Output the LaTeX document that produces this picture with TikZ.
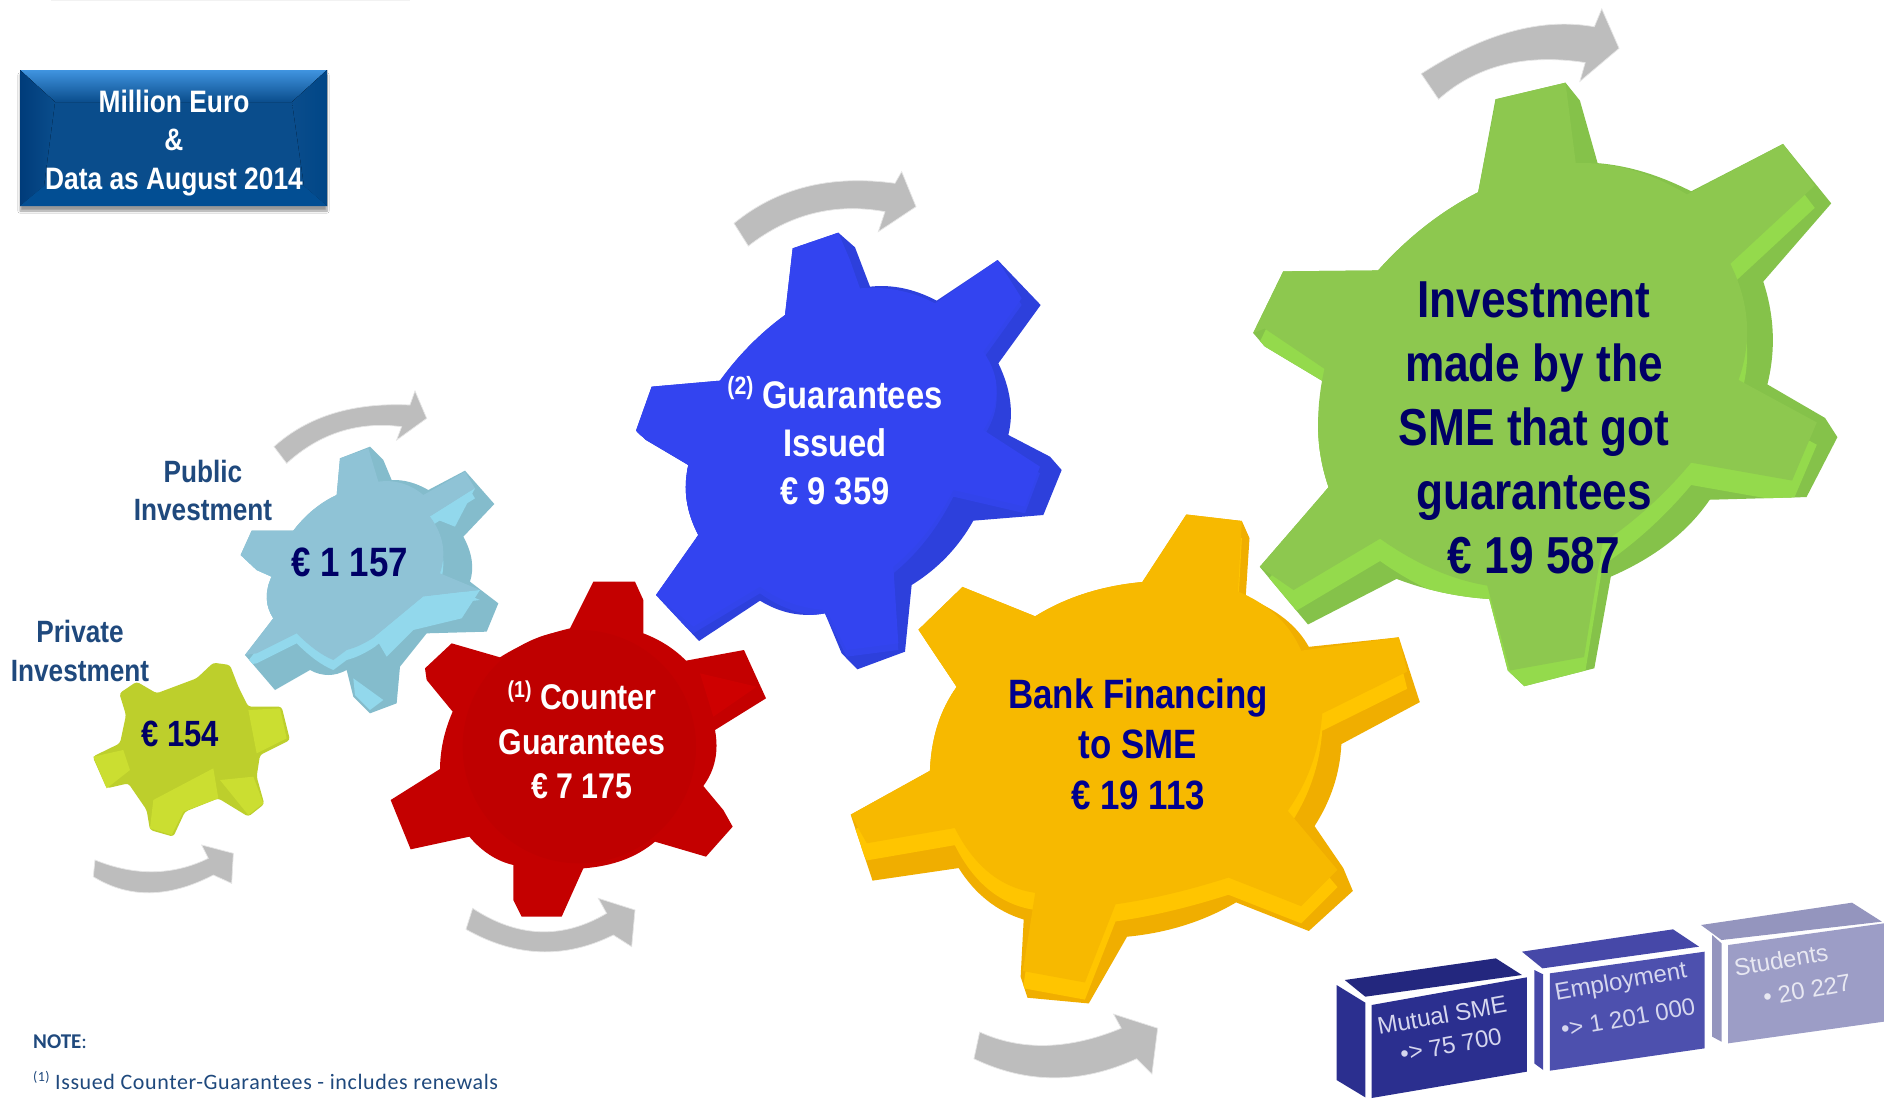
\documentclass[tikz,border=0pt]{standalone}
\usepackage{fontspec}
\setmainfont{Liberation Sans}
\newfontfamily\nf[FakeStretch=0.85]{Liberation Sans}
\newfontfamily\notefont[LetterSpace=2.8]{Carlito}
\newfontfamily\noteb{Carlito}
\usetikzlibrary{shadows.blur}
\definecolor{navy}{HTML}{000066}
\definecolor{navyb}{HTML}{00008F}
\definecolor{steel}{HTML}{1F497D}
\definecolor{arrowgray}{HTML}{BDBDBD}
\definecolor{lgmain}{HTML}{0A4D8C}
\definecolor{lgtop}{HTML}{4094E0}
\definecolor{lgleft}{HTML}{003C7A}
\definecolor{lgright}{HTML}{004687}
\definecolor{lgbot}{HTML}{024E93}
\definecolor{gside}{HTML}{85C24A}
\definecolor{glight}{HTML}{94DA4C}
\definecolor{gface}{HTML}{8DC84F}
\definecolor{yside}{HTML}{F0AE00}
\definecolor{ylight}{HTML}{FFC500}
\definecolor{yface}{HTML}{F7B900}
\definecolor{bside}{HTML}{2D40DC}
\definecolor{blight}{HTML}{3244EB}
\definecolor{bface}{HTML}{3344F0}
\definecolor{rside}{HTML}{C40000}
\definecolor{rface}{HTML}{BF0000}
\definecolor{rlight}{HTML}{CE0000}
\definecolor{lside}{HTML}{84BCCC}
\definecolor{llight}{HTML}{92D8EC}
\definecolor{lface}{HTML}{8FC3D6}
\definecolor{oface}{HTML}{BDCF2C}
\definecolor{olight}{HTML}{CBDE31}
\definecolor{box1top}{HTML}{23277E}
\definecolor{box1}{HTML}{2B2F8F}
\definecolor{box2top}{HTML}{4648A8}
\definecolor{box2}{HTML}{4D50AE}
\definecolor{box3top}{HTML}{9495BE}
\definecolor{box3}{HTML}{9C9DC6}
\definecolor{boxtxt}{HTML}{D5D6EE}
\definecolor{boxtxtb}{HTML}{E8E8F2}
\tikzset{
  curvearrow/.style={fill=arrowgray,draw=arrowgray!40,line width=.7pt},
  gtext/.style={align=center,inner sep=0pt},
  boxtext/.style={font=\fontsize{24}{24}\selectfont,inner sep=0pt,rotate=10},
}
% true quadratic curve: start, control, end
\def\Q(#1,#2)(#3,#4)(#5,#6){.. controls ({(#1+2*#3)/3},{(#2+2*#4)/3}) and ({(#5+2*#3)/3},{(#6+2*#4)/3}) .. (#5,#6)}
\newcommand\gearbody[6]{%
  \fill[#3] #1;
  \begin{scope}\clip #1; \fill[#4,shift={(0,#6)}] #2; \end{scope}
  \fill[#5] #2;
}
\def\Gout{(620,222)--(790,185)--(825,225)--(868,365) \Q(868,365)(978,373)(1095,428)--(1318,322)--(1435,455)--(1270,630) \Q(1270,630)(1311,745)(1280,860)--(1420,935)--(1450,978)--(1375,1112)--(1140,1118) \Q(1140,1118)(1060,1226)(900,1290)--(860,1495)--(690,1535)--(650,1500)--(605,1340) \Q(605,1340)(488,1333)(380,1295)--(165,1397)--(48,1268)--(215,1090) \Q(215,1090)(170,968)(205,855)--(60,775)--(32,745)--(105,607)--(335,605) \Q(335,605)(444,493)(578,430)--cycle}
\def\Gface{(622,222)--(790,185)--(815,365) \Q(815,365)(950,360)(1085,435)--(1318,322)--(1395,415)--(1190,590) \Q(1190,590)(1260,720)(1210,850)--(1400,945)--(1340,1075)--(1095,1035) \Q(1095,1035)(1000,1140)(880,1215)--(835,1470)--(655,1500)--(600,1310) \Q(600,1310)(470,1290)(340,1205)--(130,1320)--(48,1268)--(215,1090) \Q(215,1090)(170,968)(205,825)--(60,735)--(32,745)--(105,607)--(335,605) \Q(335,605)(444,493)(578,430)--cycle}
\def\Yout{(905,38)--(1050,55)--(1070,100)--(1060,255) \Q(1060,255)(1178,300)(1225,385)--(1460,360)--(1515,530)--(1310,640) \Q(1310,640)(1305,753)(1240,855)--(1315,965)--(1340,1025)--(1225,1130)--(1035,1055) \Q(1035,1055)(908,1130)(750,1145)--(650,1320)--(490,1305)--(472,1250)--(480,1100) \Q(480,1100)(375,1068)(310,965)--(85,998)--(28,825)--(235,710) \Q(235,710)(240,580)(305,490)--(205,340)--(320,228)--(510,305) \Q(510,305)(630,230)(790,215)--cycle}
\def\Yface{(905,38)--(1050,55)--(1040,240) \Q(1040,240)(1160,290)(1205,395)--(1460,360)--(1482,450)--(1260,560) \Q(1260,560)(1250,700)(1170,815)--(1300,970)--(1205,1065)--(1015,990) \Q(1015,990)(860,1040)(720,1060)--(640,1265)--(478,1235)--(510,1030) \Q(510,1030)(375,1010)(300,860)--(70,900)--(28,825)--(235,710) \Q(235,710)(240,580)(305,490)--(205,340)--(320,228)--(510,305) \Q(510,305)(630,230)(790,215)--cycle}
\def\Bout{(518,265)--(655,218)--(705,262)--(750,380) \Q(750,380)(850,369)(950,422)--(1133,300)--(1262,435)--(1135,610) \Q(1135,610)(1190,723)(1165,825)--(1290,890)--(1325,930)--(1270,1065)--(1060,1082) \Q(1060,1082)(993,1202)(875,1275)--(855,1475)--(712,1528)--(665,1480)--(615,1360) \Q(615,1360)(513,1379)(420,1322)--(237,1443)--(108,1305)--(235,1125) \Q(235,1125)(180,1020)(205,915)--(78,840)--(48,812)--(95,680)--(300,662) \Q(300,662)(383,547)(495,465)--cycle}
\def\Bface{(518,265)--(655,218)--(690,300)--(720,385) \Q(720,385)(840,375)(945,430)--(1133,300)--(1205,415)--(1090,575) \Q(1090,575)(1170,690)(1090,810)--(1260,920)--(1215,1040)--(1000,990) \Q(1000,990)(930,1130)(820,1220)--(835,1450)--(680,1470)--(620,1350) \Q(620,1350)(510,1345)(420,1280)--(220,1400)--(108,1305)--(235,1125) \Q(235,1125)(180,1020)(205,915)--(60,825)--(48,812)--(95,680)--(300,662) \Q(300,662)(383,547)(495,465)--cycle}
\def\Rout{(640,35)--(765,35)--(790,90)--(790,190) \Q(790,190)(866,219)(918,272)--(1092,240)--(1158,385)--(1005,480) \Q(1005,480)(1023,576)(970,648)--(1030,720)--(1058,770)--(978,860)--(825,815) \Q(825,815)(743,885)(610,895)--(545,1040)--(425,1040)--(400,990)--(400,885) \Q(400,885)(326,868)(268,800)--(92,838)--(32,690)--(180,597) \Q(180,597)(181,509)(218,425)--(140,330)--(135,295)--(215,220)--(360,262) \Q(360,262)(455,202)(570,175)--cycle}
\def\Lout{(1020,175)--(1110,140)--(1150,180)--(1175,240) \Q(1175,240)(1230,238)(1285,270)--(1395,212)--(1483,312)--(1390,410) \Q(1390,410)(1430,483)(1410,545)--(1495,610)--(1460,695)--(1280,700)--(1200,800)--(1190,910)--(1110,940)--(1060,890)--(1040,810) \Q(1040,810)(985,840)(930,810)--(825,870)--(735,765)--(820,655) \Q(820,655)(783,598)(815,530)--(770,510)--(722,465)--(755,392)--(880,392) \Q(880,392)(935,320)(1010,285)--cycle}
\def\Lface{(1020,175)--(1105,145)--(1135,245) \Q(1135,245)(1210,235)(1270,285)--(1395,215)--(1425,265)--(1290,350) \Q(1290,350)(1350,430)(1320,520)--(1440,570)--(1270,590)--(1125,710) \Q(1125,710)(1080,740)(1040,750)--(1000,780) \Q(1000,780)(950,760)(890,700)--(770,760)--(735,765)--(820,655) \Q(820,655)(783,598)(815,530)--(770,510)--(722,465)--(755,392)--(880,392) \Q(880,392)(935,320)(1010,285)--cycle}
\def\Oout{(590,835)--(640,788)--(690,795)--(715,860)--(745,920)--(845,920)--(870,1020)--(780,1065)--(770,1130)--(793,1212)--(745,1250)--(655,1195)--(555,1235)--(520,1310)--(450,1290)--(440,1230)--(385,1150)--(320,1165)--(278,1070)--(360,1030)--(378,945)--(358,880)--(410,845)--(470,880)--cycle}
\begin{document}
\begin{tikzpicture}[x=1pt,y=-1pt]
\useasboundingbox (0,0) rectangle (1885,1098);
\fill[white] (0,0) rectangle (1885,1098);
\fill[black!5] (51,0) rectangle (410,1);
% legend box
\fill[blur shadow={shadow xshift=0pt,shadow yshift=-5pt,shadow blur steps=6},fill=lgmain] (20,70) rectangle (327,206);
\fill[top color=lgtop,bottom color=lgmain] (20,70)--(327,70)--(292,102)--(55,102)--cycle;
\fill[left color=lgleft,right color=lgmain] (20,70)--(55,102)--(44,186)--(20,206)--cycle;
\fill[right color=lgright,left color=lgmain] (327,70)--(292,102)--(304,186)--(327,206)--cycle;
\fill[lgbot] (20,206)--(327,206)--(304,186)--(44,186)--cycle;
% arrows and gears
\begin{scope}[shift={(1240,0)},xscale=.412,yscale=.447]
  \draw[curvearrow] (440,165) \Q(440,165)(670,28)(860,60)--(878,20)--(920,108)--(825,182)--(838,140) \Q(838,140)(620,109)(482,222)--cycle;
  \gearbody{\Gout}{\Gface}{gside}{glight}{gface}{50}
\end{scope}
\begin{scope}[shift={(840,500)},xscale=.3827,yscale=.3814]
  \draw[curvearrow] (365,1395) \Q(365,1395)(530,1470)(735,1385)--(715,1348)--(830,1385)--(815,1505)--(775,1465) \Q(775,1465)(558,1565)(350,1465)--cycle;
  \gearbody{\Yout}{\Yface}{yside}{ylight}{yface}{45}
\end{scope}
\begin{scope}[shift={(620,160)},scale=1/3]
  \draw[curvearrow] (342,190) \Q(342,190)(537,30)(825,70)--(845,35)--(888,140)--(775,215)--(795,155) \Q(795,155)(570,114)(385,258)--cycle;
  \gearbody{\Bout}{\Bface}{bside}{blight}{bface}{20}
\end{scope}
\begin{scope}[shift={(380,570)},scale=1/3]
  \draw[curvearrow] (278,1015) \Q(278,1015)(481,1148)(680,1030)--(655,985)--(765,1020)--(755,1130)--(700,1095) \Q(700,1095)(481,1204)(258,1078)--cycle;
  \fill[rside] \Rout;
  \fill[rface] (598,530) circle[radius=350];
  \fill[rlight] (960,310)--(1130,350)--(1000,440)--cycle;
\end{scope}
\begin{scope}[shift={(0,400)},scale=1/3]
  \draw[curvearrow] (822,140) \Q(822,140)(974,3)(1230,15)--(1245,-27)--(1280,55)--(1190,120)--(1205,80) \Q(1205,80)(1008,55)(860,190)--cycle;
  \draw[curvearrow] (285,1380) \Q(285,1380)(465,1453)(625,1375)--(605,1335)--(700,1360)--(695,1450)--(640,1425) \Q(640,1425)(440,1529)(280,1430)--cycle;
  \gearbody{\Lout}{\Lface}{lside}{llight}{lface}{30}
  \fill[llight] (1125,710)--(1270,590)--(1440,570)--(1385,655)--(1240,690)--(1160,770)--cycle;
  \fill[llight] (1060,835)--(1150,900)--(1110,930)--(1065,885)--cycle;
  \fill[llight] (1290,350)--(1425,265)--(1365,380)--cycle;
  \fill[oface,rounded corners=3pt] \Oout;
  \fill[olight] (745,930)--(840,925)--(860,1015)--(770,1060)--cycle;
  \fill[olight] (460,1200)--(640,1105)--(655,1195)--(550,1235)--(515,1305)--(450,1285)--cycle;
  \fill[olight] (280,1070)--(370,1050)--(390,1110)--(320,1165)--cycle;
  \fill[olight] (660,1140)--(760,1130)--(790,1210)--(745,1245)--cycle;
\end{scope}
% stat boxes
\begin{scope}[shift={(1300,880)},xscale=.373,yscale=1/3]
  \fill[box1top] (120,300)--(525,235)--(595,285)--(175,350)--cycle;
  \fill[box1] (98,315)--(175,368)--(175,652)--(98,600)--cycle;
  \fill[box1] (192,375)--(608,292)--(608,575)--(192,654)--cycle;
  \fill[box2top] (595,215)--(1000,148)--(1070,200)--(650,265)--cycle;
  \fill[box2top] (628,270)--(652,283)--(652,570)--(628,550)--cycle;
  \fill[box2] (670,280)--(1085,215)--(1085,505)--(670,572)--cycle;
  \fill[box3top] (1075,135)--(1480,68)--(1560,125)--(1130,180)--cycle;
  \fill[box3top] (1105,165)--(1130,190)--(1130,485)--(1105,470)--cycle;
  \fill[box3] (1148,195)--(1565,130)--(1565,425)--(1148,490)--cycle;
\end{scope}
% text
\node[gtext,text=white,font=\nf\bfseries\fontsize{31}{38.5}\selectfont] (legend) at (174,143) {Million Euro\\\&\\Data as August 2014};
\node[gtext,text=navy,font=\nf\bfseries\fontsize{52}{64}\selectfont] (green) at (1534,428) {Investment\\made by the\\SME that got\\guarantees\\€ 19 587};
\node[gtext,text=navyb,font=\nf\bfseries\fontsize{41}{50.5}\selectfont] (yellow) at (1138,744) {Bank Financing\\to SME\\€ 19 113};
\node[gtext,text=white,font=\nf\bfseries\fontsize{38.5}{48}\selectfont] (blue) at (835,441) {{\fontsize{25}{25}\selectfont\raisebox{.55em}{(2)}} Guarantees\\Issued\\€ 9 359};
\node[gtext,text=white,font=\nf\bfseries\fontsize{35.7}{44.5}\selectfont] (red) at (582,740) {{\fontsize{23}{23}\selectfont\raisebox{.55em}{(1)}} Counter\\Guarantees\\€ 7 175};
\node[gtext,text=navy,font=\nf\bfseries\fontsize{41}{48}\selectfont] (lblue) at (350,562) {€ 1 157};
\node[gtext,text=navy,font=\nf\bfseries\fontsize{36.5}{42}\selectfont] (olive) at (180,734) {€ 154};
\node[gtext,text=steel,font=\nf\bfseries\fontsize{30.8}{38.5}\selectfont] (public) at (203,490.5) {Public\\Investment};
\node[gtext,text=steel,font=\nf\bfseries\fontsize{30.8}{38.5}\selectfont] (private) at (80,651) {Private\\Investment};
\node[anchor=west,inner sep=0pt,text=steel,font=\noteb\fontsize{21}{21}\selectfont] (note) at (33,1042) {\textbf{NOTE}:};
\node[anchor=base west,inner sep=0pt,text=steel,font=\notefont\fontsize{22}{22}\selectfont] (fn) at (33,1089) {{\fontsize{14}{14}\selectfont\raisebox{.55em}{(1)}} Issued Counter-Guarantees - includes renewals};
\node[boxtext,text=boxtxt] (m1) at (1442,1015) {Mutual SME};
\node[boxtext,text=boxtxt] (m2) at (1451,1045) {•> 75 700};
\node[boxtext,text=boxtxt] (e1) at (1621,983) {Employment};
\node[boxtext,text=boxtxt] (e2) at (1628,1018) {•> 1 201 000};
\node[boxtext,text=boxtxtb] (s1) at (1781,960) {Students};
\node[boxtext,text=boxtxtb] (s2) at (1807,990) {• 20 227};
\end{tikzpicture}
\end{document}
